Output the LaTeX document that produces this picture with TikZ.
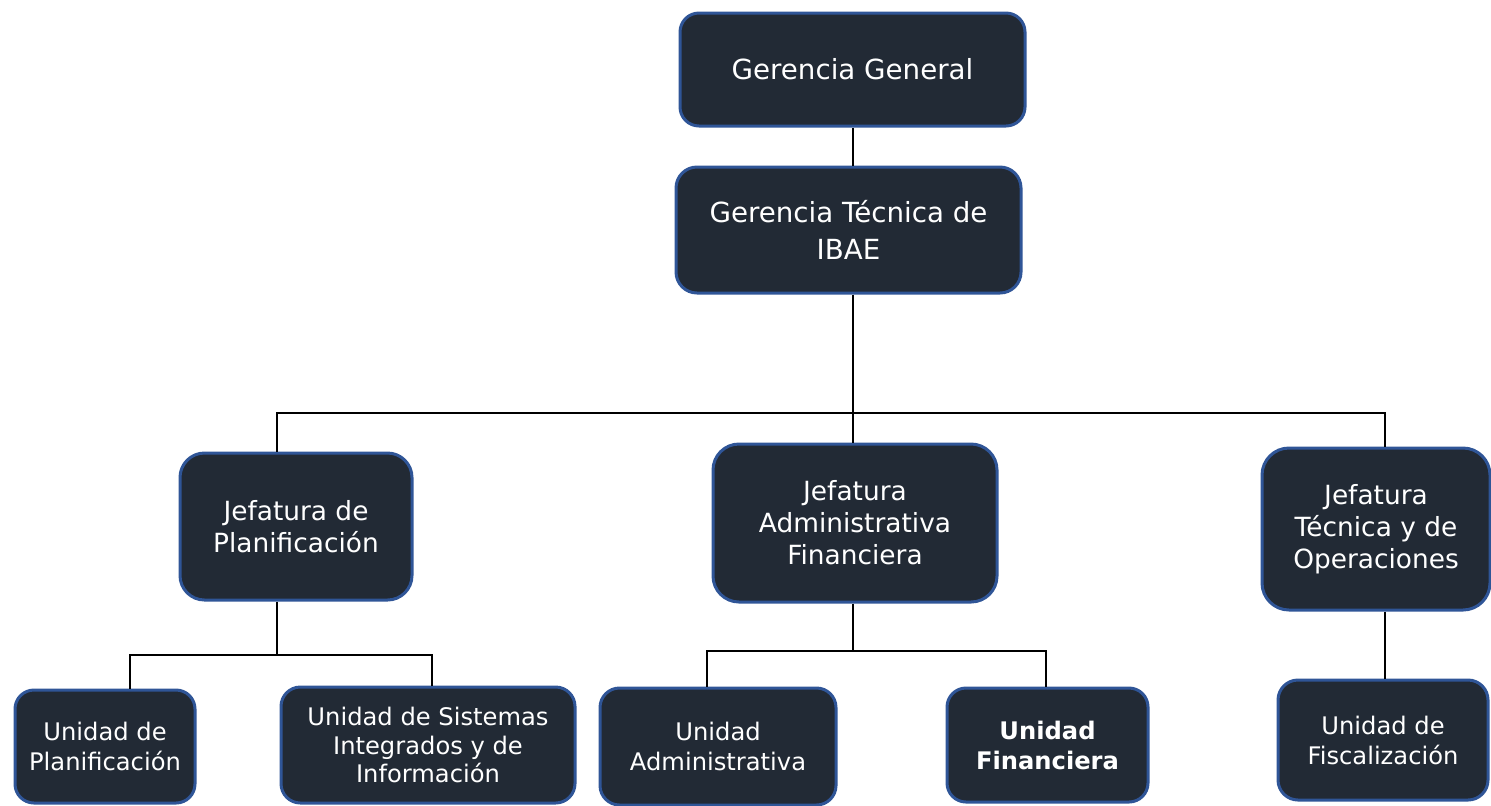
\documentclass[tikz,border=0pt]{standalone}
\usepackage{fontspec}
\setmainfont{DejaVu Sans}
\definecolor{boxfill}{HTML}{222A35}
\definecolor{boxline}{HTML}{2F5597}
\tikzset{
  orgbox/.style={draw=boxline, line width=1.5pt, fill=boxfill, text=white,
    align=center, inner sep=0pt},
  lvlone/.style={font=\fontsize{13.85}{18.5}\selectfont},
  lvltwo/.style={font=\fontsize{13.2}{16}\selectfont},
  lvlthree/.style={font=\fontsize{12.1}{15}\selectfont},
  conn/.style={draw=black, line width=1.3pt}
}
\begin{document}
\begin{tikzpicture}[x=0.5pt, y=-0.5pt]
\useasboundingbox (0,0) rectangle (1491,805);
% named x positions and bus levels
\coordinate (cx) at (853,0);
\coordinate (cjp) at (277,0);
\coordinate (cjt) at (1385,0);
\coordinate (cup) at (130,0);
\coordinate (cus) at (432,0);
\coordinate (cua) at (707,0);
\coordinate (cuf) at (1046,0);
\coordinate (busa) at (0,413);
\coordinate (busb) at (0,655);
\coordinate (busc) at (0,651);
% boxes
\node[orgbox, lvlone, minimum width=172.5pt, minimum height=56.5pt, rounded corners=9.5pt] (gg) at (852.5,69.5) {Gerencia General};
\node[orgbox, lvlone, minimum width=172.5pt, minimum height=63pt, rounded corners=10.5pt] (gt) at (848.5,230) {Gerencia Técnica de\\IBAE};
\node[orgbox, lvltwo, minimum width=116pt, minimum height=73.5pt, rounded corners=12.25pt] (jp) at (296,526.5) {Jefatura de\\Planificación};
\node[orgbox, lvltwo, minimum width=142pt, minimum height=79pt, rounded corners=13pt] (jaf) at (855,523) {Jefatura\\Administrativa\\Financiera};
\node[orgbox, lvltwo, minimum width=114pt, minimum height=81pt, rounded corners=13.5pt] (jto) at (1376,529) {Jefatura\\Técnica y de\\Operaciones};
\node[orgbox, lvlthree, minimum width=90pt, minimum height=56.5pt, rounded corners=9.5pt] (up) at (105,746.5) {Unidad de\\Planificación};
\node[orgbox, lvlthree, font=\fontsize{12.1}{14.2}\selectfont, minimum width=147pt, minimum height=58pt, rounded corners=9.7pt] (us) at (428,745) {Unidad de Sistemas\\Integrados y de\\Información};
\node[orgbox, lvlthree, minimum width=118pt, minimum height=58.5pt, rounded corners=9.75pt] (ua) at (718,746.5) {Unidad\\Administrativa};
\node[orgbox, lvlthree, minimum width=100.5pt, minimum height=57pt, rounded corners=9.5pt] (uf) at (1047.5,745) {\textbf{Unidad}\\\textbf{Financiera}};
\node[orgbox, lvlthree, minimum width=105pt, minimum height=60pt, rounded corners=10pt] (ufi) at (1383,740) {Unidad de\\Fiscalización};
% connectors
\draw[conn] (gg.south -| cx) -- (gt.north -| cx);
\draw[conn] (gt.south -| cx) -- (jaf.north -| cx);
\draw[conn] (jp.north -| cjp) |- (busa -| cjt) -- (jto.north -| cjt);
\draw[conn] (jp.south -| cjp) -- (busb -| cjp);
\draw[conn] (up.north -| cup) |- (busb -| cus) -- (us.north -| cus);
\draw[conn] (jaf.south -| cx) -- (busc -| cx);
\draw[conn] (ua.north -| cua) |- (busc -| cuf) -- (uf.north -| cuf);
\draw[conn] (jto.south -| cjt) -- (ufi.north -| cjt);
\end{tikzpicture}
\end{document}
